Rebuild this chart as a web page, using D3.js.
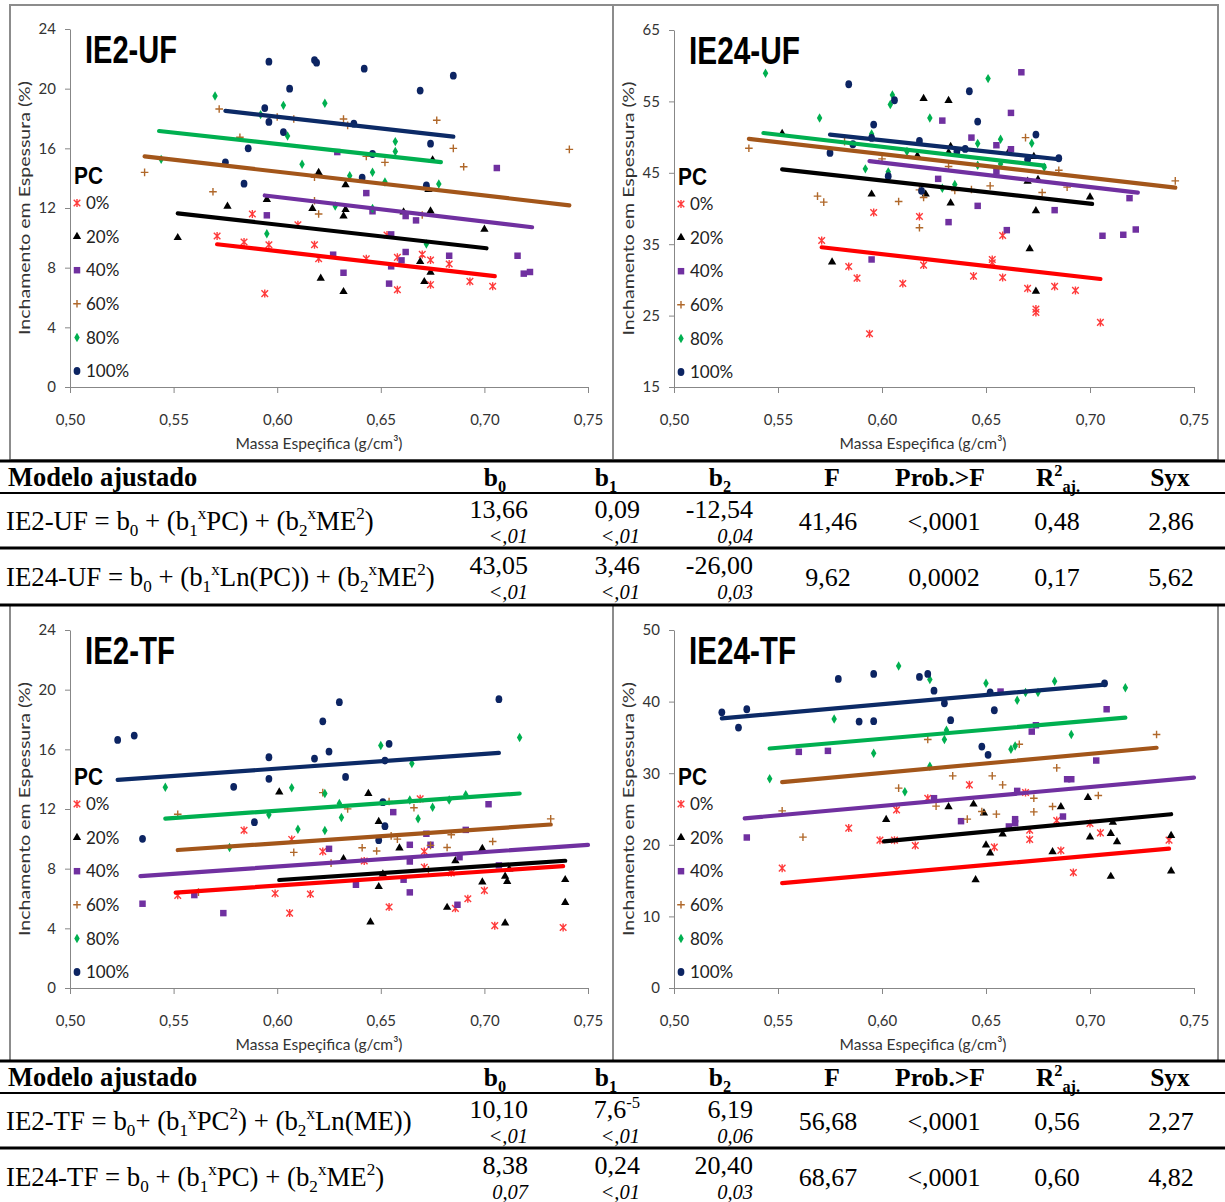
<!DOCTYPE html>
<html>
<head>
<meta charset="utf-8">
<script src="https://cdn.jsdelivr.net/npm/d3@7"></script>
<style>
  body { margin: 0; background: #fff; }
  svg { display: block; }
</style>
</head>
<body>
<svg id="fig" width="1225" height="1202"></svg>
<script>
// ---------- data ----------
const xTicks = [0.50, 0.55, 0.60, 0.65, 0.70, 0.75];
const yTicksIE2 = [0, 4, 8, 12, 16, 20, 24];
const yTicksIE24UF = [15, 25, 35, 45, 55, 65];
const yTicksIE24TF = [0, 10, 20, 30, 40, 50];
const pcLevels = [0, 20, 40, 60, 80, 100];
const pcLabels = ["0%", "20%", "40%", "60%", "80%", "100%"];

// observations: [PC, massa específica, inchamento]
const ie2uf = [
  [0,0.588,11.60],[0,0.610,10.88],[0,0.571,10.12],[0,0.653,10.19],[0,0.584,9.72],[0,0.596,9.54],[0,0.618,9.54],[0,0.670,8.89],[0,0.620,8.60],[0,0.643,8.60],[0,0.658,8.69],[0,0.674,8.51],[0,0.683,8.25],[0,0.693,7.08],[0,0.674,6.86],[0,0.704,6.75],[0,0.658,6.52],[0,0.594,6.26],
  [20,0.675,15.22],[20,0.620,14.37],[20,0.633,13.56],[20,0.673,13.23],[20,0.595,12.56],[20,0.576,12.11],[20,0.617,11.96],[20,0.633,11.89],[20,0.632,11.46],[20,0.661,11.73],[20,0.674,11.80],[20,0.552,10.01],[20,0.700,10.57],[20,0.669,8.40],[20,0.674,7.69],[20,0.621,7.28],[20,0.671,7.06],[20,0.632,6.39],
  [40,0.629,15.75],[40,0.706,14.68],[40,0.643,13.00],[40,0.595,11.51],[40,0.646,11.78],[40,0.662,11.46],[40,0.667,11.17],[40,0.655,10.23],[40,0.627,8.87],[40,0.662,9.05],[40,0.660,8.49],[40,0.655,8.09],[40,0.683,8.80],[40,0.716,8.80],[40,0.632,7.66],[40,0.719,7.60],[40,0.722,7.71],[40,0.654,6.93],
  [60,0.572,18.64],[60,0.600,18.10],[60,0.608,17.97],[60,0.632,17.97],[60,0.634,17.54],[60,0.677,17.88],[60,0.582,16.74],[60,0.685,16.00],[60,0.741,15.93],[60,0.643,15.46],[60,0.652,15.06],[60,0.690,14.77],[60,0.536,14.39],[60,0.618,14.06],[60,0.569,13.09],[60,0.618,12.49],[60,0.620,11.60],[60,0.670,11.53],
  [80,0.570,19.51],[80,0.603,18.88],[80,0.623,19.02],[80,0.592,18.26],[80,0.605,16.83],[80,0.657,16.45],[80,0.657,15.78],[80,0.544,15.26],[80,0.612,14.93],[80,0.635,14.17],[80,0.646,14.39],[80,0.652,13.74],[80,0.678,13.61],[80,0.628,12.13],[80,0.646,11.96],[80,0.595,10.28],[80,0.672,9.59],
  [100,0.596,21.81],[100,0.618,21.92],[100,0.619,21.74],[100,0.642,21.34],[100,0.685,20.87],[100,0.606,20.00],[100,0.669,19.87],[100,0.594,18.70],[100,0.596,17.77],[100,0.637,17.65],[100,0.603,17.09],[100,0.674,16.31],[100,0.586,16.00],[100,0.646,15.62],[100,0.575,15.06],[100,0.641,14.03],[100,0.672,13.52],[100,0.584,13.63]
];
const ie24uf = [
  [0,0.596,39.44],[0,0.618,38.88],[0,0.571,35.52],[0,0.658,36.22],[0,0.653,32.86],[0,0.653,32.40],[0,0.584,31.88],[0,0.620,32.07],[0,0.588,30.25],[0,0.644,30.53],[0,0.658,30.34],[0,0.610,29.50],[0,0.670,28.81],[0,0.683,29.09],[0,0.693,28.53],[0,0.674,25.91],[0,0.674,25.45],[0,0.705,24.05],[0,0.594,22.46],
  [20,0.620,55.39],[20,0.632,55.11],[20,0.552,50.49],[20,0.633,48.68],[20,0.632,47.84],[20,0.617,47.37],[20,0.661,47.98],[20,0.673,47.28],[20,0.670,43.82],[20,0.675,44.06],[20,0.595,42.00],[20,0.621,42.00],[20,0.700,41.59],[20,0.633,40.75],[20,0.674,39.67],[20,0.671,34.36],[20,0.576,32.50],[20,0.674,28.39],
  [40,0.667,59.08],[40,0.662,53.39],[40,0.629,52.31],[40,0.643,49.93],[40,0.655,48.86],[40,0.662,48.30],[40,0.655,45.18],[40,0.627,44.15],[40,0.719,41.45],[40,0.646,40.37],[40,0.683,39.77],[40,0.632,38.09],[40,0.660,36.97],[40,0.722,37.06],[40,0.706,36.18],[40,0.716,36.32],[40,0.595,32.86],
  [60,0.669,49.93],[60,0.582,49.37],[60,0.536,48.44],[60,0.600,46.95],[60,0.632,45.88],[60,0.685,45.36],[60,0.741,43.87],[60,0.652,43.17],[60,0.689,43.00],[60,0.643,42.66],[60,0.635,42.52],[60,0.618,42.61],[60,0.677,42.24],[60,0.569,41.73],[60,0.572,40.89],[60,0.608,40.98],[60,0.620,41.54],[60,0.618,37.30],
  [80,0.544,58.94],[80,0.651,58.19],[80,0.605,55.90],[80,0.604,54.55],[80,0.570,52.69],[80,0.623,52.69],[80,0.595,50.45],[80,0.657,49.70],[80,0.646,49.10],[80,0.672,49.14],[80,0.612,48.00],[80,0.678,45.78],[80,0.646,46.06],[80,0.657,46.25],[80,0.592,45.55],[80,0.603,45.13],[80,0.635,43.36],[80,0.629,42.85],
  [100,0.584,57.40],[100,0.606,55.16],[100,0.642,56.42],[100,0.596,51.75],[100,0.646,52.17],[100,0.674,50.35],[100,0.595,49.89],[100,0.618,49.47],[100,0.586,49.00],[100,0.640,48.35],[100,0.636,48.00],[100,0.575,47.79],[100,0.685,47.04],[100,0.670,46.86],[100,0.603,44.52],[100,0.619,42.47]
];
const ie2tf = [
  [0,0.669,12.68],[0,0.584,10.58],[0,0.607,9.96],[0,0.622,9.15],[0,0.671,9.15],[0,0.642,8.51],[0,0.671,8.10],[0,0.684,7.72],[0,0.700,6.54],[0,0.599,6.34],[0,0.616,6.30],[0,0.552,6.21],[0,0.692,5.98],[0,0.654,5.43],[0,0.686,5.34],[0,0.606,5.02],[0,0.705,4.18],[0,0.738,4.06],
  [20,0.601,13.13],[20,0.644,13.04],[20,0.649,11.16],[20,0.659,9.38],[20,0.699,9.35],[20,0.632,8.66],[20,0.686,8.53],[20,0.712,7.97],[20,0.710,7.48],[20,0.711,7.14],[20,0.651,7.64],[20,0.739,7.26],[20,0.699,7.10],[20,0.649,6.79],[20,0.739,5.72],[20,0.682,5.40],[20,0.645,4.42],[20,0.710,4.35],
  [40,0.702,12.32],[40,0.656,11.79],[40,0.691,10.60],[40,0.672,10.34],[40,0.674,9.60],[40,0.664,9.60],[40,0.625,9.33],[40,0.688,8.77],[40,0.664,8.48],[40,0.707,8.22],[40,0.661,7.26],[40,0.638,6.92],[40,0.664,6.41],[40,0.560,6.23],[40,0.535,5.65],[40,0.687,5.58],[40,0.574,5.02],
  [60,0.622,13.10],[60,0.552,11.65],[60,0.634,12.01],[60,0.666,12.08],[60,0.654,12.50],[60,0.732,11.34],[60,0.704,9.82],[60,0.684,10.27],[60,0.655,10.20],[60,0.658,9.98],[60,0.608,9.09],[60,0.641,9.40],[60,0.648,9.18],[60,0.674,9.56],[60,0.682,9.42],[60,0.626,8.37],[60,0.673,7.93],[60,0.562,6.43],
  [80,0.717,16.79],[80,0.650,16.25],[80,0.665,15.05],[80,0.546,13.46],[80,0.607,13.42],[80,0.623,13.04],[80,0.630,12.37],[80,0.691,12.95],[80,0.683,12.61],[80,0.664,12.61],[80,0.675,12.12],[80,0.596,11.61],[80,0.631,11.43],[80,0.668,11.34],[80,0.610,10.65],[80,0.623,10.56],[80,0.577,9.42],
  [100,0.707,19.36],[100,0.630,19.16],[100,0.622,17.88],[100,0.531,16.92],[100,0.523,16.63],[100,0.654,16.37],[100,0.625,15.85],[100,0.596,15.47],[100,0.618,15.38],[100,0.652,15.25],[100,0.596,14.02],[100,0.633,14.15],[100,0.579,13.49],[100,0.651,12.46],[100,0.589,11.12],[100,0.652,10.85],[100,0.649,9.91],[100,0.535,10.00]
];
const ie24tf = [
  [0,0.642,28.37],[0,0.669,27.30],[0,0.622,26.51],[0,0.607,24.88],[0,0.684,23.40],[0,0.584,22.33],[0,0.671,22.05],[0,0.700,22.98],[0,0.705,21.67],[0,0.599,20.65],[0,0.606,20.65],[0,0.671,20.74],[0,0.738,20.65],[0,0.616,19.91],[0,0.654,19.67],[0,0.686,19.21],[0,0.552,16.74],[0,0.692,16.14],
  [20,0.699,26.60],[20,0.644,25.67],[20,0.632,25.30],[20,0.649,24.42],[20,0.686,25.30],[20,0.602,23.53],[20,0.711,23.12],[20,0.658,21.49],[20,0.700,21.07],[20,0.710,21.58],[20,0.739,21.30],[20,0.713,20.42],[20,0.650,19.95],[20,0.652,18.84],[20,0.682,19.02],[20,0.645,15.12],[20,0.710,15.58],[20,0.739,16.33],
  [40,0.657,41.40],[40,0.708,38.93],[40,0.674,36.70],[40,0.672,35.81],[40,0.560,32.98],[40,0.574,33.12],[40,0.703,31.77],[40,0.689,29.16],[40,0.691,29.16],[40,0.625,26.51],[40,0.665,27.53],[40,0.664,23.58],[40,0.664,23.02],[40,0.687,23.95],[40,0.638,23.30],[40,0.661,22.56],[40,0.535,21.02],
  [60,0.732,35.40],[60,0.622,34.70],[60,0.666,34.05],[60,0.684,30.74],[60,0.634,29.63],[60,0.653,29.63],[60,0.658,28.37],[60,0.608,27.91],[60,0.704,26.88],[60,0.673,26.51],[60,0.626,25.40],[60,0.682,25.35],[60,0.552,24.74],[60,0.648,24.65],[60,0.673,24.60],[60,0.655,24.28],[60,0.641,23.58],[60,0.562,21.07],
  [80,0.608,44.98],[80,0.623,43.07],[80,0.650,42.56],[80,0.683,42.84],[80,0.717,41.95],[80,0.669,41.26],[80,0.675,41.26],[80,0.665,40.19],[80,0.577,37.58],[80,0.631,36.00],[80,0.630,34.70],[80,0.664,33.81],[80,0.662,33.35],[80,0.691,35.40],[80,0.596,32.79],[80,0.623,30.98],[80,0.546,29.21],[80,0.611,27.40],
  [100,0.523,38.51],[100,0.531,36.37],[100,0.535,38.93],[100,0.579,43.16],[100,0.596,43.86],[100,0.618,43.44],[100,0.622,43.86],[100,0.625,41.53],[100,0.589,37.21],[100,0.596,37.26],[100,0.630,39.77],[100,0.633,37.40],[100,0.652,41.30],[100,0.654,38.79],[100,0.648,33.72],[100,0.651,32.56],[100,0.707,42.56]
];

// fitted lines per PC: [PC, ME start, IE start, ME end, IE end]
const ie2ufFit = [[0,0.571,9.57,0.705,7.43],[20,0.552,11.64,0.701,9.30],[40,0.594,12.84,0.723,10.71],[60,0.536,15.46,0.741,12.18],[80,0.543,17.16,0.679,15.08],[100,0.575,18.51,0.685,16.78]];
const ie24ufFit = [[0,0.571,34.57,0.705,30.13],[20,0.552,45.49,0.701,40.64],[40,0.594,46.64,0.723,42.23],[60,0.536,49.75,0.741,42.92],[80,0.543,50.57,0.678,46.00],[100,0.575,50.35,0.685,46.90]];
const ie2tfFit = [[0,0.551,6.40,0.738,8.17],[20,0.601,7.24,0.739,8.53],[40,0.534,7.50,0.750,9.60],[60,0.552,9.25,0.732,10.96],[80,0.546,11.36,0.717,13.04],[100,0.523,13.95,0.707,15.76]];
const ie24tfFit = [[0,0.552,14.65,0.738,19.46],[20,0.601,20.48,0.739,24.27],[40,0.534,23.70,0.750,29.38],[60,0.552,28.75,0.732,33.55],[80,0.546,33.45,0.717,37.75],[100,0.523,37.65,0.707,42.38]];

// regression tables
const tableHead = ["Modelo ajustado", "b_{0}", "b_{1}", "b_{2}", "F", "Prob.>F", "R^{2}_{aj.}", "Syx"];
const modelsUF = ["IE2-UF = b_{0} + (b_{1}^{x}PC) + (b_{2}^{x}ME^{2})", "IE24-UF = b_{0} + (b_{1}^{x}Ln(PC)) + (b_{2}^{x}ME^{2})"];
const coefUF = [["13,66", "0,09", "-12,54"], ["43,05", "3,46", "-26,00"]];
const coefProbUF = [["<,01", "<,01", "0,04"], ["<,01", "<,01", "0,03"]];
const statsUF = [["41,46", "<,0001", "0,48", "2,86"], ["9,62", "0,0002", "0,17", "5,62"]];
const modelsTF = ["IE2-TF = b_{0}+ (b_{1}^{x}PC^{2}) + (b_{2}^{x}Ln(ME))", "IE24-TF = b_{0} + (b_{1}^{x}PC) + (b_{2}^{x}ME^{2})"];
const coefTF = [["10,10", "7,6^{-5}", "6,19"], ["8,38", "0,24", "20,40"]];
const coefProbTF = [["<,01", "<,01", "0,06"], ["0,07", "<,01", "0,03"]];
const statsTF = [["56,68", "<,0001", "0,56", "2,27"], ["68,67", "<,0001", "0,60", "4,82"]];

// ---------- styling ----------
const sans = "Lato, 'Open Sans', 'Liberation Sans', sans-serif";
const serif = "'Liberation Serif', 'Times New Roman', serif";
const axisGray = "#878787";
const lineColor = {0: "#ff0000", 20: "#000000", 40: "#7030a0", 60: "#a3561a", 80: "#00b050", 100: "#0c2a66"};
const markColor = {0: "#ff3b3b", 20: "#000000", 40: "#7030a0", 60: "#b0682a", 80: "#00b050", 100: "#0c2462"};

const svg = d3.select("#fig");
svg.append("rect").attr("width", 1225).attr("height", 1202).attr("fill", "#fff");

function drawMarker(g, pc, cx, cy) {
  const t = `translate(${cx},${cy})`;
  if (pc === 0) {
    g.append("path").attr("transform", t)
      .attr("d", "M-3.3,-3.3L3.3,3.3M-3.3,3.3L3.3,-3.3M0,-4V4")
      .attr("stroke", markColor[0]).attr("stroke-width", 1.4).attr("fill", "none");
  } else if (pc === 60) {
    g.append("path").attr("transform", t)
      .attr("d", "M-3.8,0H3.8M0,-3.8V3.8")
      .attr("stroke", markColor[60]).attr("stroke-width", 1.4).attr("fill", "none");
  } else {
    const sym = {20: [d3.symbolTriangle, 30], 40: [d3.symbolSquare, 42], 80: [d3.symbolDiamond, 26], 100: [d3.symbolCircle, 36]}[pc];
    g.append("path").attr("transform", t + (pc === 100 ? " scale(1,1.15)" : ""))
      .attr("d", d3.symbol(sym[0], sym[1])())
      .attr("fill", markColor[pc]);
  }
}

const panels = [
  {title: "IE2-UF", pts: ie2uf, fit: ie2ufFit, yDomain: [0, 24], yTicks: yTicksIE2, left: 70, right: 588, top: 29, bottom: 387, box: [10, 5, 603, 455], titleW: 92},
  {title: "IE24-UF", pts: ie24uf, fit: ie24ufFit, yDomain: [15, 65], yTicks: yTicksIE24UF, left: 674, right: 1194, top: 30, bottom: 387, box: [613, 5, 605, 455], titleW: 111},
  {title: "IE2-TF", pts: ie2tf, fit: ie2tfFit, yDomain: [0, 24], yTicks: yTicksIE2, left: 70, right: 588, top: 630, bottom: 988, box: [10, 605, 603, 456], titleW: 90},
  {title: "IE24-TF", pts: ie24tf, fit: ie24tfFit, yDomain: [0, 50], yTicks: yTicksIE24TF, left: 674, right: 1194, top: 630, bottom: 988, box: [613, 605, 605, 456], titleW: 107}
];

const fmtX = d => d3.format(".2f")(d).replace(".", ",");

panels.forEach(p => {
  const g = svg.append("g");
  g.append("rect").attr("x", p.box[0]).attr("y", p.box[1]).attr("width", p.box[2]).attr("height", p.box[3])
    .attr("fill", "#fff").attr("stroke", "#8c8c8c").attr("stroke-width", 2);

  const x = d3.scaleLinear().domain([0.5, 0.75]).range([p.left, p.right]);
  const y = d3.scaleLinear().domain(p.yDomain).range([p.bottom, p.top]);

  const ya = g.append("g").attr("transform", `translate(${p.left},0)`)
    .call(d3.axisLeft(y).tickValues(p.yTicks).tickSize(5).tickSizeOuter(0).tickPadding(9).tickFormat(d3.format("d")));
  const xa = g.append("g").attr("transform", `translate(0,${p.bottom})`)
    .call(d3.axisBottom(x).tickValues(xTicks).tickSize(6).tickSizeOuter(0).tickFormat(fmtX));
  [ya, xa].forEach(a => {
    a.select(".domain").attr("stroke", axisGray);
    a.selectAll(".tick line").attr("stroke", axisGray);
    a.selectAll(".tick text").attr("font-family", sans).attr("font-size", 15).attr("fill", "#333");
  });
  xa.selectAll(".tick text").attr("y", 38).attr("dy", 0);

  // axis titles
  g.append("text").attr("transform", `translate(${p.left - 46},${(p.top + p.bottom) / 2}) rotate(-90)`)
    .attr("text-anchor", "middle").attr("dy", "0.35em")
    .attr("font-family", sans).attr("font-size", 16).attr("fill", "#333")
    .attr("textLength", 254).attr("lengthAdjust", "spacingAndGlyphs")
    .text("Inchamento em Espessura (%)");
  g.append("text").attr("x", p.left + 249).attr("y", p.bottom + 62)
    .attr("text-anchor", "middle").attr("font-family", sans).attr("font-size", 16).attr("fill", "#333")
    .attr("textLength", 167).attr("lengthAdjust", "spacingAndGlyphs")
    .text("Massa Espeçifica (g/cm³)");

  // points
  const pg = g.append("g");
  p.pts.forEach(d => drawMarker(pg, d[0], x(d[1]), y(d[2])));

  // fitted lines
  g.append("g").selectAll("line").data(p.fit).join("line")
    .attr("x1", d => x(d[1])).attr("y1", d => y(d[2]))
    .attr("x2", d => x(d[3])).attr("y2", d => y(d[4]))
    .attr("stroke", d => lineColor[d[0]]).attr("stroke-width", 4.2).attr("stroke-linecap", "round");

  // panel title
  g.append("text").attr("x", p.left + 15).attr("y", p.top + 34)
    .attr("font-family", "'Liberation Sans', Arial, sans-serif").attr("font-weight", "bold")
    .attr("font-size", 38).attr("fill", "#000")
    .attr("textLength", p.titleW).attr("lengthAdjust", "spacingAndGlyphs")
    .text(p.title);

  // legend
  const lg = g.append("g");
  lg.append("text").attr("x", p.left + 4).attr("y", p.top + 147).attr("dy", "0.35em")
    .attr("font-family", "'Liberation Sans', Arial, sans-serif").attr("font-weight", "bold")
    .attr("font-size", 23).attr("textLength", 29).attr("lengthAdjust", "spacingAndGlyphs").text("PC");
  pcLevels.forEach((pc, i) => {
    const cy = p.top + 174 + i * 33.6;
    drawMarker(lg, pc, p.left + 7, cy);
    lg.append("text").attr("x", p.left + 16).attr("y", cy).attr("dy", "0.36em")
      .attr("font-family", sans).attr("font-size", 17).attr("fill", "#222").text(pcLabels[i]);
  });
});

// ---------- tables ----------
function rich(g, x, y, str, size, anchor, opts = {}) {
  const t = g.append("text").attr("x", x).attr("y", y).attr("text-anchor", anchor)
    .attr("font-family", serif).attr("font-size", size)
    .attr("font-weight", opts.bold ? "bold" : "normal")
    .attr("font-style", opts.italic ? "italic" : "normal").attr("fill", "#000");
  const parts = str.split(/(_\{[^}]*\}|\^\{[^}]*\})/).filter(s => s.length);
  let cur = 0;
  parts.forEach(s => {
    let kind = "", txt = s;
    if (s.startsWith("_{")) { kind = "sub"; txt = s.slice(2, -1); }
    else if (s.startsWith("^{")) { kind = "sup"; txt = s.slice(2, -1); }
    const off = kind === "sub" ? size * 0.24 : kind === "sup" ? -size * 0.4 : 0;
    t.append("tspan").attr("dy", off - cur).attr("font-size", kind ? size * 0.64 : size).text(txt);
    cur = off;
  });
  return t;
}

const headX = [8, 495, 606, 720, 832, 940, 1058, 1170];
const coefRight = [528, 640, 753];
const statX = [828, 944, 1057, 1171];

function drawTable(top, models, coefs, probs, stats) {
  const g = svg.append("g");
  const hline = (yy, w) => g.append("line").attr("x1", 0).attr("x2", 1225).attr("y1", yy).attr("y2", yy)
    .attr("stroke", "#000").attr("stroke-width", w);
  g.append("rect").attr("x", 0).attr("y", top).attr("width", 1225).attr("height", 144).attr("fill", "#fff");
  hline(top, 3); hline(top + 32, 2); hline(top + 87, 3); hline(top + 144, 3);
  tableHead.forEach((h, i) => rich(g, headX[i], top + 25, h, i === 0 ? 26.5 : 25.5, i === 0 ? "start" : "middle", {bold: true}));
  models.forEach((m, r) => {
    const rt = top + 32 + r * 56;
    rich(g, 6, rt + 37, m, 26.8, "start");
    coefs[r].forEach((c, j) => rich(g, coefRight[j], rt + 25, c, 26, "end"));
    probs[r].forEach((c, j) => rich(g, coefRight[j], rt + 50, c, 20.5, "end", {italic: true}));
    stats[r].forEach((c, j) => rich(g, statX[j], rt + 37, c, 26, "middle"));
  });
}

drawTable(461, modelsUF, coefUF, coefProbUF, statsUF);
drawTable(1061, modelsTF, coefTF, coefProbTF, statsTF);
</script>
</body>
</html>
